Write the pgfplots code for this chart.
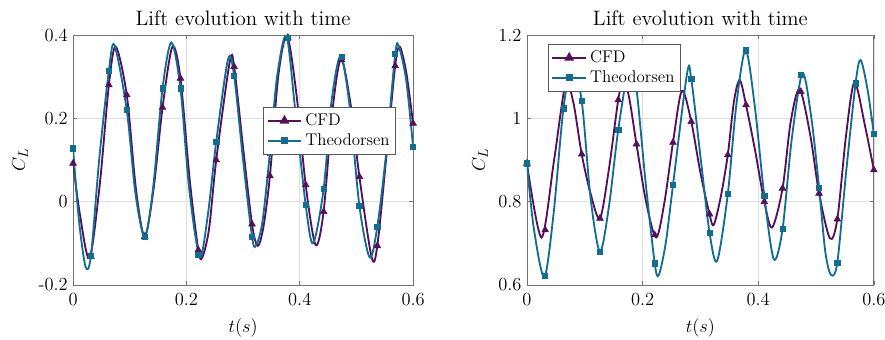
\documentclass[border=0pt]{standalone}
\usepackage{pgfplots}
\pgfplotsset{compat=1.18}
\definecolor{cfd}{RGB}{84,16,90}
\definecolor{theo}{RGB}{18,110,145}
\pgfplotsset{
  myax/.style={
    scale only axis, height=162.5pt,
    xmin=0, xmax=0.6,
    xtick={0,0.2,0.4,0.6}, xticklabels={0,0.2,0.4,0.6},
    grid=major, major grid style={black!12, line width=0.4pt},
    axis line style={black!55, line width=0.5pt},
    tick style={black!55, line width=0.4pt}, major tick length=2.5pt, tick align=inside,
    ticklabel style={font=\fontsize{12}{14}\selectfont},
    xticklabel style={yshift=-1.5pt},
    title={Lift evolution with time},
    title style={font=\fontsize{13.6}{15}\selectfont, at={(0.5,1)}, anchor=base},
    label style={font=\fontsize{13}{15}\selectfont},
    xlabel={$t(s)$}, ylabel={$C_L$},
    every axis x label/.append style={at={(axis description cs:0.5,-0.172)}, anchor=center},
    legend style={font=\fontsize{11}{13}\selectfont, draw=black!65, fill=white, line width=0.5pt, inner sep=2pt, row sep=0pt, cells={anchor=west}},
    legend image code/.code={\draw[##1, mark repeat=2, mark phase=2] plot coordinates {(0pt,0pt)(11pt,0pt)(22pt,0pt)};},
  },
  cfdline/.style={color=cfd, line width=1.2pt, smooth, no markers, forget plot},
  theoline/.style={color=theo, line width=1.2pt, smooth, no markers, forget plot},
  cfdmark/.style={color=cfd, only marks, mark=triangle*, mark size=2.5pt, forget plot},
  theomark/.style={color=theo, only marks, mark=square*, mark size=1.7pt, forget plot},
}
\begin{document}
\begin{tikzpicture}
\path[use as bounding box] (-47.5pt,-35.1pt) rectangle (527.75pt,185.25pt);
% ---------------- left ----------------
\begin{axis}[myax, width=221pt,
  ymin=-0.2, ymax=0.4, ytick={-0.2,0,0.2,0.4}, yticklabels={-0.2,0,0.2,0.4},
  every axis y label/.append style={at={(axis description cs:-0.156,0.5)}, anchor=center},
  legend style={at={(axis description cs:0.559,0.712)}, anchor=north west},
  legend entries={CFD,Theodorsen}]
\addlegendimage{color=cfd, line width=1.2pt, mark=triangle*, mark size=2.5pt}
\addlegendimage{color=theo, line width=1.2pt, mark=square*, mark size=1.7pt}
\addplot[cfdline] coordinates {
(0,0.092)(0.012,-0.03)(0.029,-0.136)(0.047,0.04)(0.06316,0.28)(0.0753,0.372)
(0.09474,0.256)(0.111,0.03)(0.12632,-0.084)(0.142,0.03)(0.15789,0.226)(0.1753,0.372)
(0.18947,0.296)(0.206,0.05)(0.22105,-0.116)(0.228,-0.134)(0.240,-0.065)(0.25263,0.10)
(0.2765,0.336)(0.28421,0.324)(0.300,0.13)(0.31579,-0.054)(0.326,-0.106)(0.336,-0.06)
(0.34737,0.062)(0.362,0.30)(0.3775,0.398)(0.394,0.26)(0.41053,0.04)
(0.428,-0.104)(0.44211,-0.024)(0.457,0.21)(0.4725,0.342)(0.489,0.24)
(0.50526,0.06)(0.527,-0.134)(0.53684,-0.106)(0.553,0.11)(0.56842,0.326)(0.5765,0.372)
(0.588,0.31)(0.6,0.188)};
\addplot[cfdmark] coordinates {
(0,0.092)(0.03158,-0.132)(0.06316,0.28)(0.09474,0.256)(0.12632,-0.084)(0.15789,0.226)
(0.18947,0.296)(0.22105,-0.116)(0.25263,0.10)(0.28421,0.324)(0.31579,-0.054)(0.34737,0.062)
(0.37895,0.394)(0.41053,0.04)(0.44211,-0.024)(0.47368,0.34)(0.50526,0.06)(0.53684,-0.106)
(0.56842,0.326)(0.6,0.188)};
\addplot[theoline] coordinates {
(0,0.128)(0.010,-0.04)(0.022,-0.156)(0.03158,-0.13)(0.046,0.10)(0.06316,0.314)(0.073,0.376)
(0.09474,0.22)(0.110,0.02)(0.12632,-0.084)(0.141,0.03)(0.15789,0.272)(0.1735,0.382)
(0.18947,0.272)(0.205,0.03)(0.2235,-0.132)(0.238,-0.03)(0.25263,0.144)
(0.2735,0.342)(0.28421,0.302)(0.300,0.10)(0.31579,-0.084)(0.3224,-0.106)(0.334,-0.05)
(0.34737,0.118)(0.360,0.30)(0.3765,0.398)(0.392,0.22)(0.41053,-0.008)
(0.4235,-0.1)(0.44211,0.03)(0.456,0.24)(0.4722,0.35)(0.488,0.23)
(0.50526,-0.01)(0.5235,-0.134)(0.53684,-0.06)(0.552,0.11)(0.56842,0.354)(0.575,0.372)
(0.588,0.29)(0.6,0.132)};
\addplot[theomark] coordinates {
(0,0.128)(0.03158,-0.13)(0.06316,0.314)(0.09474,0.22)(0.12632,-0.084)(0.15789,0.272)
(0.18947,0.272)(0.22105,-0.128)(0.25263,0.144)(0.28421,0.302)(0.31579,-0.084)(0.34737,0.118)
(0.37895,0.394)(0.41053,-0.008)(0.44211,0.03)(0.47368,0.348)(0.50526,-0.01)(0.53684,-0.06)
(0.56842,0.354)(0.6,0.132)};
\end{axis}
% ---------------- right ----------------
\begin{axis}[myax, width=225.5pt, at={(295pt,0pt)},
  ymin=0.6, ymax=1.2, ytick={0.6,0.8,1,1.2}, yticklabels={0.6,0.8,1,1.2},
  every axis y label/.append style={at={(axis description cs:-0.135,0.5)}, anchor=center},
  legend style={at={(axis description cs:0.0605,0.964)}, anchor=north west},
  legend entries={CFD,Theodorsen}]
\addlegendimage{color=cfd, line width=1.2pt, mark=triangle*, mark size=2.5pt}
\addlegendimage{color=theo, line width=1.2pt, mark=square*, mark size=1.7pt}
\addplot[cfdline] coordinates {
(0,0.892)(0.0252,0.714)(0.047,0.90)(0.0665,1.08)(0.080,1.04)
(0.09474,0.914)(0.110,0.82)(0.12632,0.76)(0.142,0.88)(0.15789,1.044)(0.166,1.085)(0.176,1.055)
(0.18947,0.938)(0.206,0.80)(0.2235,0.714)(0.238,0.80)(0.25263,0.942)
(0.268,1.066)(0.28421,0.992)(0.300,0.87)(0.31579,0.77)(0.323,0.744)(0.335,0.81)
(0.34737,0.912)(0.358,1.04)(0.368,1.092)(0.37895,1.032)(0.395,0.92)(0.41053,0.80)(0.424,0.738)
(0.44211,0.832)(0.456,0.99)(0.4715,1.07)(0.49,0.96)(0.50526,0.82)
(0.524,0.712)(0.53684,0.758)(0.552,0.96)(0.5665,1.086)(0.585,0.98)(0.6,0.876)};
\addplot[cfdmark] coordinates {
(0,0.892)(0.03158,0.732)(0.06316,1.068)(0.09474,0.914)(0.12632,0.76)(0.15789,1.044)
(0.18947,0.938)(0.22105,0.72)(0.25263,0.942)(0.28421,0.992)(0.31579,0.77)(0.34737,0.912)
(0.37895,1.032)(0.41053,0.80)(0.44211,0.832)(0.47368,1.064)(0.50526,0.82)(0.53684,0.758)
(0.56842,1.082)(0.6,0.876)};
\addplot[theoline] coordinates {
(0,0.892)(0.0115,0.74)(0.030,0.619)(0.046,0.77)(0.06316,1.024)(0.078,1.125)
(0.09474,1.042)(0.110,0.81)(0.12632,0.68)(0.142,0.79)(0.15789,0.972)(0.1775,1.13)
(0.18947,1.07)(0.205,0.85)(0.22105,0.652)(0.228,0.624)(0.240,0.70)(0.25263,0.84)
(0.277,1.108)(0.28421,1.094)(0.300,0.91)(0.31579,0.726)(0.329,0.658)(0.34737,0.818)
(0.362,1.03)(0.3782,1.164)(0.394,1.03)(0.41053,0.814)(0.427,0.662)(0.44211,0.734)
(0.458,0.95)(0.4765,1.108)(0.492,1.00)(0.50526,0.834)(0.516,0.68)(0.526,0.624)
(0.53684,0.654)(0.552,0.87)(0.56842,1.084)(0.577,1.14)(0.589,1.07)(0.6,0.962)};
\addplot[theomark] coordinates {
(0,0.892)(0.03158,0.622)(0.06316,1.024)(0.09474,1.042)(0.12632,0.68)(0.15789,0.972)
(0.18947,1.07)(0.22105,0.652)(0.25263,0.84)(0.28421,1.094)(0.31579,0.726)(0.34737,0.818)
(0.37895,1.163)(0.41053,0.814)(0.44211,0.734)(0.47368,1.104)(0.50526,0.834)(0.53684,0.654)
(0.56842,1.084)(0.6,0.962)};
\end{axis}
\end{tikzpicture}
\end{document}
